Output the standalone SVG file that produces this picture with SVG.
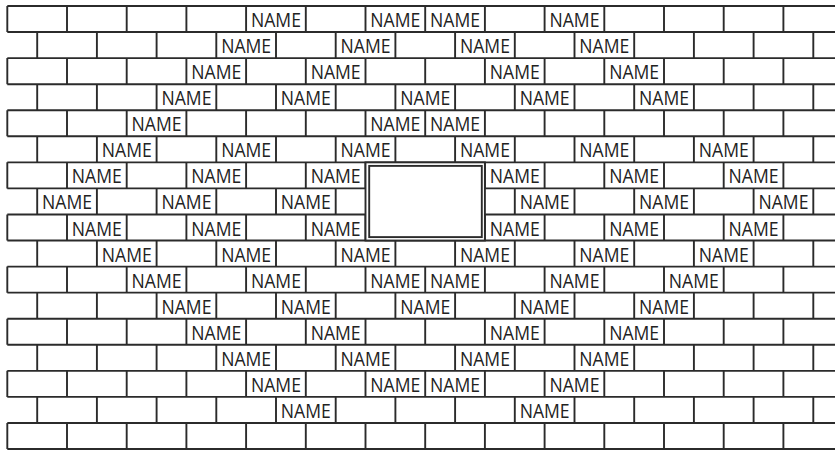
<svg xmlns="http://www.w3.org/2000/svg" width="835" height="451" viewBox="0 0 835 451">
<style>
.ln{fill:none;stroke:#2b2b2b;stroke-width:1.9}
.win{fill:#fff;stroke:#2b2b2b;stroke-width:1.9}
.t{font-family:"Open Sans","Noto Sans","DejaVu Sans",sans-serif;font-size:20px;fill:#222;text-anchor:middle}
</style>
<rect width="835" height="451" fill="#fff"/>
<g id="connectors">
<path class="ln" d="M7.3 6H835M7.3 32.06H835M7.3 58.12H835M7.3 84.18H835M7.3 110.24H835M7.3 136.3H835M7.3 162.36H835M7.3 188.42H835M7.3 214.48H835M7.3 240.54H835M7.3 266.6H835M7.3 292.66H835M7.3 318.72H835M7.3 344.78H835M7.3 370.84H835M7.3 396.9H835M7.3 422.96H835M7.3 449H835"/>
<path class="ln" d="M7.3 6V32.06M67 6V32.06M126.7 6V32.06M186.4 6V32.06M246.1 6V32.06M305.8 6V32.06M365.5 6V32.06M425.2 6V32.06M484.9 6V32.06M544.6 6V32.06M604.3 6V32.06M664 6V32.06M723.7 6V32.06M783.4 6V32.06
M37.2 32.06V58.12M96.9 32.06V58.12M156.6 32.06V58.12M216.3 32.06V58.12M276 32.06V58.12M335.7 32.06V58.12M395.4 32.06V58.12M455.1 32.06V58.12M514.8 32.06V58.12M574.5 32.06V58.12M634.2 32.06V58.12M693.9 32.06V58.12M753.6 32.06V58.12M813.3 32.06V58.12
M7.3 58.12V84.18M67 58.12V84.18M126.7 58.12V84.18M186.4 58.12V84.18M246.1 58.12V84.18M305.8 58.12V84.18M365.5 58.12V84.18M425.2 58.12V84.18M484.9 58.12V84.18M544.6 58.12V84.18M604.3 58.12V84.18M664 58.12V84.18M723.7 58.12V84.18M783.4 58.12V84.18
M37.2 84.18V110.24M96.9 84.18V110.24M156.6 84.18V110.24M216.3 84.18V110.24M276 84.18V110.24M335.7 84.18V110.24M395.4 84.18V110.24M455.1 84.18V110.24M514.8 84.18V110.24M574.5 84.18V110.24M634.2 84.18V110.24M693.9 84.18V110.24M753.6 84.18V110.24M813.3 84.18V110.24
M7.3 110.24V136.3M67 110.24V136.3M126.7 110.24V136.3M186.4 110.24V136.3M246.1 110.24V136.3M305.8 110.24V136.3M365.5 110.24V136.3M425.2 110.24V136.3M484.9 110.24V136.3M544.6 110.24V136.3M604.3 110.24V136.3M664 110.24V136.3M723.7 110.24V136.3M783.4 110.24V136.3
M37.2 136.3V162.36M96.9 136.3V162.36M156.6 136.3V162.36M216.3 136.3V162.36M276 136.3V162.36M335.7 136.3V162.36M395.4 136.3V162.36M455.1 136.3V162.36M514.8 136.3V162.36M574.5 136.3V162.36M634.2 136.3V162.36M693.9 136.3V162.36M753.6 136.3V162.36M813.3 136.3V162.36
M7.3 162.36V188.42M67 162.36V188.42M126.7 162.36V188.42M186.4 162.36V188.42M246.1 162.36V188.42M305.8 162.36V188.42M365.5 162.36V188.42M425.2 162.36V188.42M484.9 162.36V188.42M544.6 162.36V188.42M604.3 162.36V188.42M664 162.36V188.42M723.7 162.36V188.42M783.4 162.36V188.42
M37.2 188.42V214.48M96.9 188.42V214.48M156.6 188.42V214.48M216.3 188.42V214.48M276 188.42V214.48M335.7 188.42V214.48M395.4 188.42V214.48M455.1 188.42V214.48M514.8 188.42V214.48M574.5 188.42V214.48M634.2 188.42V214.48M693.9 188.42V214.48M753.6 188.42V214.48M813.3 188.42V214.48
M7.3 214.48V240.54M67 214.48V240.54M126.7 214.48V240.54M186.4 214.48V240.54M246.1 214.48V240.54M305.8 214.48V240.54M365.5 214.48V240.54M425.2 214.48V240.54M484.9 214.48V240.54M544.6 214.48V240.54M604.3 214.48V240.54M664 214.48V240.54M723.7 214.48V240.54M783.4 214.48V240.54
M37.2 240.54V266.6M96.9 240.54V266.6M156.6 240.54V266.6M216.3 240.54V266.6M276 240.54V266.6M335.7 240.54V266.6M395.4 240.54V266.6M455.1 240.54V266.6M514.8 240.54V266.6M574.5 240.54V266.6M634.2 240.54V266.6M693.9 240.54V266.6M753.6 240.54V266.6M813.3 240.54V266.6
M7.3 266.6V292.66M67 266.6V292.66M126.7 266.6V292.66M186.4 266.6V292.66M246.1 266.6V292.66M305.8 266.6V292.66M365.5 266.6V292.66M425.2 266.6V292.66M484.9 266.6V292.66M544.6 266.6V292.66M604.3 266.6V292.66M664 266.6V292.66M723.7 266.6V292.66M783.4 266.6V292.66
M37.2 292.66V318.72M96.9 292.66V318.72M156.6 292.66V318.72M216.3 292.66V318.72M276 292.66V318.72M335.7 292.66V318.72M395.4 292.66V318.72M455.1 292.66V318.72M514.8 292.66V318.72M574.5 292.66V318.72M634.2 292.66V318.72M693.9 292.66V318.72M753.6 292.66V318.72M813.3 292.66V318.72
M7.3 318.72V344.78M67 318.72V344.78M126.7 318.72V344.78M186.4 318.72V344.78M246.1 318.72V344.78M305.8 318.72V344.78M365.5 318.72V344.78M425.2 318.72V344.78M484.9 318.72V344.78M544.6 318.72V344.78M604.3 318.72V344.78M664 318.72V344.78M723.7 318.72V344.78M783.4 318.72V344.78
M37.2 344.78V370.84M96.9 344.78V370.84M156.6 344.78V370.84M216.3 344.78V370.84M276 344.78V370.84M335.7 344.78V370.84M395.4 344.78V370.84M455.1 344.78V370.84M514.8 344.78V370.84M574.5 344.78V370.84M634.2 344.78V370.84M693.9 344.78V370.84M753.6 344.78V370.84M813.3 344.78V370.84
M7.3 370.84V396.9M67 370.84V396.9M126.7 370.84V396.9M186.4 370.84V396.9M246.1 370.84V396.9M305.8 370.84V396.9M365.5 370.84V396.9M425.2 370.84V396.9M484.9 370.84V396.9M544.6 370.84V396.9M604.3 370.84V396.9M664 370.84V396.9M723.7 370.84V396.9M783.4 370.84V396.9
M37.2 396.9V422.96M96.9 396.9V422.96M156.6 396.9V422.96M216.3 396.9V422.96M276 396.9V422.96M335.7 396.9V422.96M395.4 396.9V422.96M455.1 396.9V422.96M514.8 396.9V422.96M574.5 396.9V422.96M634.2 396.9V422.96M693.9 396.9V422.96M753.6 396.9V422.96M813.3 396.9V422.96
M7.3 422.96V449M67 422.96V449M126.7 422.96V449M186.4 422.96V449M246.1 422.96V449M305.8 422.96V449M365.5 422.96V449M425.2 422.96V449M484.9 422.96V449M544.6 422.96V449M604.3 422.96V449M664 422.96V449M723.7 422.96V449M783.4 422.96V449"/>
</g>
<g id="window">
<rect class="win" x="365.5" y="162.36" width="119.4" height="78.18"/>
<rect class="ln" x="369.2" y="165.9" width="112.6" height="71.2"/>
</g>
<g id="labels">
<g id="n0-4"><text class="t" x="275.95" y="27" textLength="50" lengthAdjust="spacingAndGlyphs">NAME</text></g>
<g id="n0-6"><text class="t" x="395.35" y="27" textLength="50" lengthAdjust="spacingAndGlyphs">NAME</text></g>
<g id="n0-7"><text class="t" x="455.05" y="27" textLength="50" lengthAdjust="spacingAndGlyphs">NAME</text></g>
<g id="n0-9"><text class="t" x="574.45" y="27" textLength="50" lengthAdjust="spacingAndGlyphs">NAME</text></g>
<g id="n1-3"><text class="t" x="246.15" y="53.1" textLength="50" lengthAdjust="spacingAndGlyphs">NAME</text></g>
<g id="n1-5"><text class="t" x="365.55" y="53.1" textLength="50" lengthAdjust="spacingAndGlyphs">NAME</text></g>
<g id="n1-7"><text class="t" x="484.95" y="53.1" textLength="50" lengthAdjust="spacingAndGlyphs">NAME</text></g>
<g id="n1-9"><text class="t" x="604.35" y="53.1" textLength="50" lengthAdjust="spacingAndGlyphs">NAME</text></g>
<g id="n2-3"><text class="t" x="216.25" y="79.1" textLength="50" lengthAdjust="spacingAndGlyphs">NAME</text></g>
<g id="n2-5"><text class="t" x="335.65" y="79.1" textLength="50" lengthAdjust="spacingAndGlyphs">NAME</text></g>
<g id="n2-8"><text class="t" x="514.75" y="79.1" textLength="50" lengthAdjust="spacingAndGlyphs">NAME</text></g>
<g id="n2-10"><text class="t" x="634.15" y="79.1" textLength="50" lengthAdjust="spacingAndGlyphs">NAME</text></g>
<g id="n3-2"><text class="t" x="186.45" y="105.2" textLength="50" lengthAdjust="spacingAndGlyphs">NAME</text></g>
<g id="n3-4"><text class="t" x="305.85" y="105.2" textLength="50" lengthAdjust="spacingAndGlyphs">NAME</text></g>
<g id="n3-6"><text class="t" x="425.25" y="105.2" textLength="50" lengthAdjust="spacingAndGlyphs">NAME</text></g>
<g id="n3-8"><text class="t" x="544.65" y="105.2" textLength="50" lengthAdjust="spacingAndGlyphs">NAME</text></g>
<g id="n3-10"><text class="t" x="664.05" y="105.2" textLength="50" lengthAdjust="spacingAndGlyphs">NAME</text></g>
<g id="n4-2"><text class="t" x="156.55" y="131.2" textLength="50" lengthAdjust="spacingAndGlyphs">NAME</text></g>
<g id="n4-6"><text class="t" x="395.35" y="131.2" textLength="50" lengthAdjust="spacingAndGlyphs">NAME</text></g>
<g id="n4-7"><text class="t" x="455.05" y="131.2" textLength="50" lengthAdjust="spacingAndGlyphs">NAME</text></g>
<g id="n5-1"><text class="t" x="126.75" y="157.3" textLength="50" lengthAdjust="spacingAndGlyphs">NAME</text></g>
<g id="n5-3"><text class="t" x="246.15" y="157.3" textLength="50" lengthAdjust="spacingAndGlyphs">NAME</text></g>
<g id="n5-5"><text class="t" x="365.55" y="157.3" textLength="50" lengthAdjust="spacingAndGlyphs">NAME</text></g>
<g id="n5-7"><text class="t" x="484.95" y="157.3" textLength="50" lengthAdjust="spacingAndGlyphs">NAME</text></g>
<g id="n5-9"><text class="t" x="604.35" y="157.3" textLength="50" lengthAdjust="spacingAndGlyphs">NAME</text></g>
<g id="n5-11"><text class="t" x="723.75" y="157.3" textLength="50" lengthAdjust="spacingAndGlyphs">NAME</text></g>
<g id="n6-1"><text class="t" x="96.85" y="183.4" textLength="50" lengthAdjust="spacingAndGlyphs">NAME</text></g>
<g id="n6-3"><text class="t" x="216.25" y="183.4" textLength="50" lengthAdjust="spacingAndGlyphs">NAME</text></g>
<g id="n6-5"><text class="t" x="335.65" y="183.4" textLength="50" lengthAdjust="spacingAndGlyphs">NAME</text></g>
<g id="n6-8"><text class="t" x="514.75" y="183.4" textLength="50" lengthAdjust="spacingAndGlyphs">NAME</text></g>
<g id="n6-10"><text class="t" x="634.15" y="183.4" textLength="50" lengthAdjust="spacingAndGlyphs">NAME</text></g>
<g id="n6-12"><text class="t" x="753.55" y="183.4" textLength="50" lengthAdjust="spacingAndGlyphs">NAME</text></g>
<g id="n7-0"><text class="t" x="67.05" y="209.4" textLength="50" lengthAdjust="spacingAndGlyphs">NAME</text></g>
<g id="n7-2"><text class="t" x="186.45" y="209.4" textLength="50" lengthAdjust="spacingAndGlyphs">NAME</text></g>
<g id="n7-4"><text class="t" x="305.85" y="209.4" textLength="50" lengthAdjust="spacingAndGlyphs">NAME</text></g>
<g id="n7-8"><text class="t" x="544.65" y="209.4" textLength="50" lengthAdjust="spacingAndGlyphs">NAME</text></g>
<g id="n7-10"><text class="t" x="664.05" y="209.4" textLength="50" lengthAdjust="spacingAndGlyphs">NAME</text></g>
<g id="n7-12"><text class="t" x="783.45" y="209.4" textLength="50" lengthAdjust="spacingAndGlyphs">NAME</text></g>
<g id="n8-1"><text class="t" x="96.85" y="235.5" textLength="50" lengthAdjust="spacingAndGlyphs">NAME</text></g>
<g id="n8-3"><text class="t" x="216.25" y="235.5" textLength="50" lengthAdjust="spacingAndGlyphs">NAME</text></g>
<g id="n8-5"><text class="t" x="335.65" y="235.5" textLength="50" lengthAdjust="spacingAndGlyphs">NAME</text></g>
<g id="n8-8"><text class="t" x="514.75" y="235.5" textLength="50" lengthAdjust="spacingAndGlyphs">NAME</text></g>
<g id="n8-10"><text class="t" x="634.15" y="235.5" textLength="50" lengthAdjust="spacingAndGlyphs">NAME</text></g>
<g id="n8-12"><text class="t" x="753.55" y="235.5" textLength="50" lengthAdjust="spacingAndGlyphs">NAME</text></g>
<g id="n9-1"><text class="t" x="126.75" y="261.5" textLength="50" lengthAdjust="spacingAndGlyphs">NAME</text></g>
<g id="n9-3"><text class="t" x="246.15" y="261.5" textLength="50" lengthAdjust="spacingAndGlyphs">NAME</text></g>
<g id="n9-5"><text class="t" x="365.55" y="261.5" textLength="50" lengthAdjust="spacingAndGlyphs">NAME</text></g>
<g id="n9-7"><text class="t" x="484.95" y="261.5" textLength="50" lengthAdjust="spacingAndGlyphs">NAME</text></g>
<g id="n9-9"><text class="t" x="604.35" y="261.5" textLength="50" lengthAdjust="spacingAndGlyphs">NAME</text></g>
<g id="n9-11"><text class="t" x="723.75" y="261.5" textLength="50" lengthAdjust="spacingAndGlyphs">NAME</text></g>
<g id="n10-2"><text class="t" x="156.55" y="287.6" textLength="50" lengthAdjust="spacingAndGlyphs">NAME</text></g>
<g id="n10-4"><text class="t" x="275.95" y="287.6" textLength="50" lengthAdjust="spacingAndGlyphs">NAME</text></g>
<g id="n10-6"><text class="t" x="395.35" y="287.6" textLength="50" lengthAdjust="spacingAndGlyphs">NAME</text></g>
<g id="n10-7"><text class="t" x="455.05" y="287.6" textLength="50" lengthAdjust="spacingAndGlyphs">NAME</text></g>
<g id="n10-9"><text class="t" x="574.45" y="287.6" textLength="50" lengthAdjust="spacingAndGlyphs">NAME</text></g>
<g id="n10-11"><text class="t" x="693.85" y="287.6" textLength="50" lengthAdjust="spacingAndGlyphs">NAME</text></g>
<g id="n11-2"><text class="t" x="186.45" y="313.7" textLength="50" lengthAdjust="spacingAndGlyphs">NAME</text></g>
<g id="n11-4"><text class="t" x="305.85" y="313.7" textLength="50" lengthAdjust="spacingAndGlyphs">NAME</text></g>
<g id="n11-6"><text class="t" x="425.25" y="313.7" textLength="50" lengthAdjust="spacingAndGlyphs">NAME</text></g>
<g id="n11-8"><text class="t" x="544.65" y="313.7" textLength="50" lengthAdjust="spacingAndGlyphs">NAME</text></g>
<g id="n11-10"><text class="t" x="664.05" y="313.7" textLength="50" lengthAdjust="spacingAndGlyphs">NAME</text></g>
<g id="n12-3"><text class="t" x="216.25" y="339.7" textLength="50" lengthAdjust="spacingAndGlyphs">NAME</text></g>
<g id="n12-5"><text class="t" x="335.65" y="339.7" textLength="50" lengthAdjust="spacingAndGlyphs">NAME</text></g>
<g id="n12-8"><text class="t" x="514.75" y="339.7" textLength="50" lengthAdjust="spacingAndGlyphs">NAME</text></g>
<g id="n12-10"><text class="t" x="634.15" y="339.7" textLength="50" lengthAdjust="spacingAndGlyphs">NAME</text></g>
<g id="n13-3"><text class="t" x="246.15" y="365.8" textLength="50" lengthAdjust="spacingAndGlyphs">NAME</text></g>
<g id="n13-5"><text class="t" x="365.55" y="365.8" textLength="50" lengthAdjust="spacingAndGlyphs">NAME</text></g>
<g id="n13-7"><text class="t" x="484.95" y="365.8" textLength="50" lengthAdjust="spacingAndGlyphs">NAME</text></g>
<g id="n13-9"><text class="t" x="604.35" y="365.8" textLength="50" lengthAdjust="spacingAndGlyphs">NAME</text></g>
<g id="n14-4"><text class="t" x="275.95" y="391.8" textLength="50" lengthAdjust="spacingAndGlyphs">NAME</text></g>
<g id="n14-6"><text class="t" x="395.35" y="391.8" textLength="50" lengthAdjust="spacingAndGlyphs">NAME</text></g>
<g id="n14-7"><text class="t" x="455.05" y="391.8" textLength="50" lengthAdjust="spacingAndGlyphs">NAME</text></g>
<g id="n14-9"><text class="t" x="574.45" y="391.8" textLength="50" lengthAdjust="spacingAndGlyphs">NAME</text></g>
<g id="n15-4"><text class="t" x="305.85" y="417.9" textLength="50" lengthAdjust="spacingAndGlyphs">NAME</text></g>
<g id="n15-8"><text class="t" x="544.65" y="417.9" textLength="50" lengthAdjust="spacingAndGlyphs">NAME</text></g>
</g>
</svg>
